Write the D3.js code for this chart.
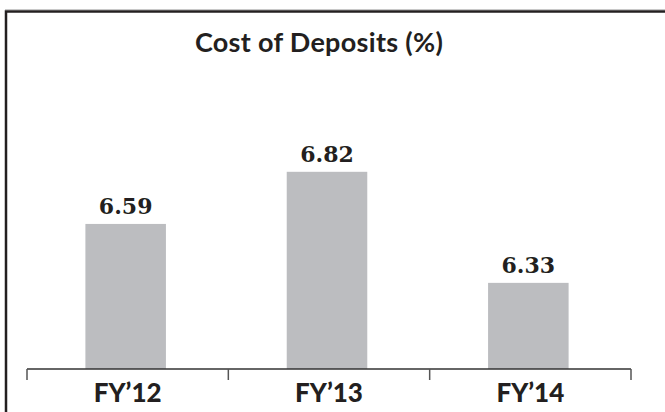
<!DOCTYPE html>
<html>
<head>
<meta charset="utf-8">
<script src="https://cdn.jsdelivr.net/npm/d3@7"></script>
<style>
  body { margin: 0; background: #fff; }
  svg { display: block; }
</style>
</head>
<body>
<script>
var categories = ['FY\u201912', 'FY\u201913', 'FY\u201914'];
var values = [6.59, 6.82, 6.33];
var labels = ['6.59', '6.82', '6.33'];

var WIDTH = 665;
var HEIGHT = 412;
var BASE = 369;
var BAR_COLOR = '#bcbdc0';
var INK = '#231f20';

var svg = d3.select('body').append('svg')
  .attr('width', WIDTH)
  .attr('height', HEIGHT);

// frame (only top and left edges show in the crop)
svg.append('line')
  .attr('x1', 5).attr('x2', WIDTH)
  .attr('y1', 9.5).attr('y2', 9.5)
  .style('stroke', '#c8c8c8')
  .style('stroke-width', 1);
svg.append('path')
  .attr('d', 'M6,' + HEIGHT + 'V11.5H' + WIDTH)
  .style('fill', 'none')
  .style('stroke', INK)
  .style('stroke-width', 2.5);

svg.append('text')
  .attr('x', 319)
  .attr('y', 52)
  .attr('text-anchor', 'middle')
  .style('font-family', 'Lato, "Open Sans", sans-serif')
  .style('font-weight', 700)
  .style('font-size', '27px')
  .style('letter-spacing', '0.3px')
  .style('fill', INK)
  .text('Cost of Deposits (%)');

var x = d3.scaleBand()
  .domain(categories)
  .range([27, 631])
  .paddingInner(0.6)
  .paddingOuter(0.3);

var y = d3.scaleLinear()
  .domain([5.95, 6.85])
  .range([BASE, 165]);

var bar = svg.selectAll('g.bar')
  .data(values)
  .enter().append('g')
  .attr('class', 'bar');

bar.append('rect')
  .attr('x', function (d, i) { return x(categories[i]) - 2; })
  .attr('y', function (d) { return y(d); })
  .attr('width', x.bandwidth())
  .attr('height', function (d) { return BASE - y(d); })
  .style('fill', BAR_COLOR);

bar.append('text')
  .attr('x', function (d, i) { return x(categories[i]) - 2 + x.bandwidth() / 2; })
  .attr('y', function (d) { return y(d) - 10; })
  .attr('text-anchor', 'middle')
  .style('font-family', '"DejaVu Serif", "Liberation Serif", serif')
  .style('font-weight', 700)
  .style('font-size', '22px')
  .style('fill', INK)
  .text(function (d, i) { return labels[i]; });

// axis: baseline with ticks at band boundaries, labels centred in bands
var bounds = categories.map(function (c) { return x(c) - x.step() * x.paddingInner() / 2; });
bounds.push(x.range()[1]);

var axis = svg.append('g').attr('class', 'axis');
axis.append('line')
  .attr('x1', x.range()[0]).attr('x2', x.range()[1])
  .attr('y1', BASE).attr('y2', BASE)
  .style('stroke', '#333')
  .style('stroke-width', 1.5);
axis.selectAll('line.tick')
  .data(bounds)
  .enter().append('line')
  .attr('class', 'tick')
  .attr('x1', function (d) { return d; })
  .attr('x2', function (d) { return d; })
  .attr('y1', BASE)
  .attr('y2', BASE + 11)
  .style('stroke', '#555')
  .style('stroke-width', 1.5);
axis.selectAll('text')
  .data(categories)
  .enter().append('text')
  .attr('x', function (d) { return x(d) + x.bandwidth() / 2; })
  .attr('y', 402)
  .attr('text-anchor', 'middle')
  .style('font-family', 'Lato, "Open Sans", sans-serif')
  .style('font-weight', 900)
  .style('font-size', '26px')
  .style('fill', INK)
  .text(function (d) { return d; });
</script>
</body>
</html>
